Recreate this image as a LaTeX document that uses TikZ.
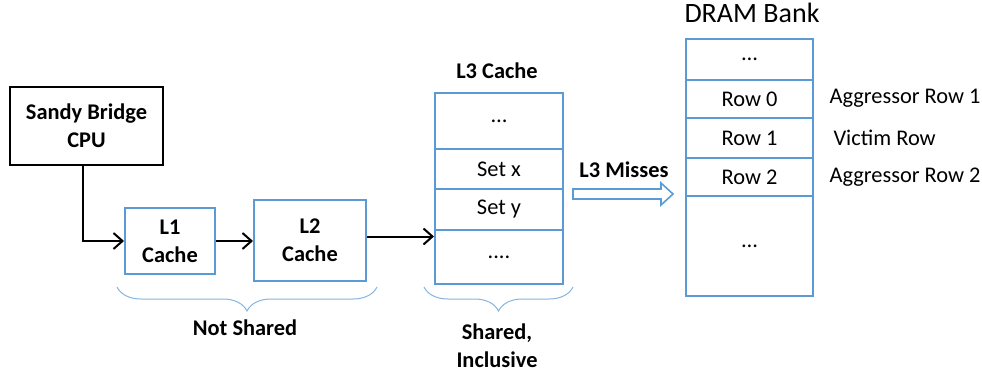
\documentclass[tikz,border=0pt]{standalone}
\usepackage{fontspec}
\setmainfont{Carlito}
\usetikzlibrary{arrows.meta,decorations.pathreplacing,calc}
\definecolor{cblue}{RGB}{91,155,213}
\begin{document}
\begin{tikzpicture}[x=1pt,y=-1pt,
  txt/.style={font=\fontsize{22.4}{26}\selectfont},
  btxt/.style={font=\fontsize{22.4}{28}\selectfont\bfseries},
  bbox/.style={draw=cblue,line width=2pt,inner sep=0pt,align=center,btxt},
  cell/.style={draw=cblue,line width=2pt,inner sep=0pt,txt,minimum width=128pt},
  dcell/.style={draw=cblue,line width=2pt,inner sep=0pt,txt,minimum width=127pt},
  arr/.style={line width=2pt,-{Straight Barb[length=9pt,width=16pt,line width=2pt]}},
  brc/.style={draw=cblue!75,line width=1pt,decorate,decoration={brace,mirror,amplitude=24pt}}]
\useasboundingbox (0,0) rectangle (982,377);

% CPU
\node[draw=black,line width=2pt,minimum width=153pt,minimum height=78pt,align=center,btxt] (cpu) at (86.5,126) {Sandy Bridge\\CPU};
% L1, L2
\node[bbox,minimum width=90pt,minimum height=66pt] (l1) at (170,241) {L1\\Cache};
\node[bbox,minimum width=112pt,minimum height=81pt] (l2) at (310,240.5) {L2\\Cache};

% L3 cache
\node[btxt] (l3t) at (497,71) {L3 Cache};
\node[cell,minimum height=56pt] (l3a) at (499,121) {…};
\node[cell,minimum height=40pt] (l3b) at (499,169) {Set x};
\node[cell,minimum height=41pt] (l3c) at (499,209.5) {Set y};
\node[cell,minimum height=54pt] (l3d) at (499,257) {....};

% DRAM
\node[font=\fontsize{28}{32}\selectfont] (dt) at (752,13) {DRAM Bank};
\node[dcell,minimum height=41pt] (da) at (749.5,59.5) {…};
\node[dcell,minimum height=38pt] (db) at (749.5,99) {Row 0};
\node[dcell,minimum height=40pt] (dc) at (749.5,138) {Row 1};
\node[dcell,minimum height=38pt] (dd) at (749.5,177) {Row 2};
\node[dcell,minimum height=100pt] (de) at (749.5,246) {…};

\node[txt,anchor=west] (ag1) at (826,98) {Aggressor Row 1};
\node[txt,anchor=west] (vr) at (830,138) {Victim Row};
\node[txt,anchor=west] (ag2) at (826,177) {Aggressor Row 2};

% connectors
\coordinate (cpuo) at ([xshift=-3.5pt]cpu.south);
\draw[arr] (cpuo) |- (l1.west);
\draw[arr] (l1.east) -- (l2.west |- l1.east);
\coordinate (l2o) at ([yshift=4pt]l2.east);
\draw[arr] (l2o) -- (l3d.west |- l2o);

% L3 misses arrow
\node[btxt] (miss) at (624,170) {L3 Misses};
\coordinate (ms) at (573,194);
\coordinate (me) at (673,194);
\draw[draw=cblue,line width=1.6pt,fill=white,line join=miter]
  ($(ms)+(0,-5)$) -- ($(me)+(-12,-5)$) -- ($(me)+(-12,-11)$) -- (me) -- ($(me)+(-12,11)$) -- ($(me)+(-12,5)$) -- ($(ms)+(0,5)$) -- cycle;

% braces
\coordinate (b1s) at (117,287);
\coordinate (b1e) at (377,287);
\draw[brc] (b1s) -- (b1e);
\node[btxt] (ns) at (245,328) {Not Shared};
\coordinate (b2s) at (424,287);
\coordinate (b2e) at (573,287);
\draw[brc] (b2s) -- (b2e);
\node[btxt,align=center] (si) at (497,346) {Shared,\\Inclusive};
\end{tikzpicture}
\end{document}
